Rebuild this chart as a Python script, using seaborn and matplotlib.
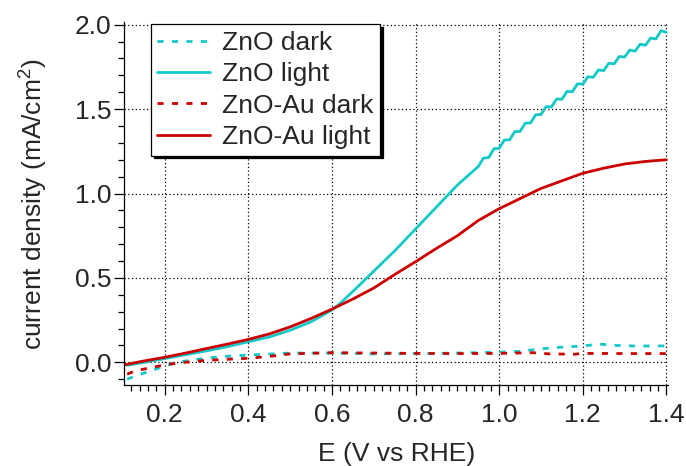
import numpy as np
import pandas as pd
import matplotlib
matplotlib.use("Agg")
import matplotlib.pyplot as plt
from matplotlib.ticker import MultipleLocator
import seaborn as sns

# ---- data ----
zno_light_x = [0.11, 0.15, 0.20, 0.25, 0.30, 0.35, 0.40, 0.45, 0.50, 0.55, 0.60, 0.62,
               0.65, 0.70, 0.75, 0.80, 0.85, 0.90,
               0.95, 0.9625, 0.975, 0.9875, 1.0, 1.0125, 1.025, 1.0375, 1.05, 1.0625,
               1.075, 1.0875, 1.1, 1.1125, 1.125, 1.1375, 1.15, 1.1625, 1.175, 1.1875,
               1.2, 1.2125, 1.225, 1.2375, 1.25, 1.2625, 1.275, 1.2875, 1.3, 1.3125,
               1.325, 1.3375, 1.35, 1.3625, 1.375, 1.3875, 1.40]
zno_light_y = [-0.018, 0.000, 0.022, 0.045, 0.068, 0.093, 0.122, 0.150, 0.190, 0.240, 0.310, 0.350,
               0.420, 0.540, 0.660, 0.790, 0.920, 1.050,
               1.160, 1.210, 1.213, 1.265, 1.268, 1.317, 1.318, 1.367, 1.368, 1.417,
               1.418, 1.467, 1.468, 1.515, 1.513, 1.560, 1.558, 1.605, 1.603, 1.650,
               1.648, 1.692, 1.688, 1.732, 1.728, 1.772, 1.768, 1.812, 1.808, 1.850,
               1.843, 1.885, 1.878, 1.921, 1.916, 1.965, 1.955]

znoau_light_x = [0.105, 0.15, 0.20, 0.25, 0.30, 0.35, 0.40, 0.45, 0.50, 0.55, 0.60, 0.65,
                 0.70, 0.75, 0.80, 0.85, 0.90, 0.95, 1.00, 1.05, 1.10, 1.15, 1.20, 1.25,
                 1.30, 1.35, 1.40]
znoau_light_y = [-0.014, 0.008, 0.030, 0.055, 0.082, 0.108, 0.136, 0.168, 0.210, 0.260, 0.315, 0.375,
                 0.440, 0.520, 0.596, 0.675, 0.750, 0.840, 0.910, 0.970, 1.030, 1.075, 1.120, 1.150,
                 1.175, 1.190, 1.200]

zno_dark_x = [0.11, 0.13, 0.16, 0.20, 0.22, 0.25, 0.30, 0.35, 0.40, 0.50, 0.60, 0.70,
              0.80, 0.90, 1.00, 1.05, 1.10, 1.15, 1.20, 1.24, 1.28, 1.32, 1.40]
zno_dark_y = [-0.100, -0.080, -0.056, -0.022, -0.006, 0.008, 0.026, 0.036, 0.043, 0.055, 0.055, 0.050,
              0.052, 0.055, 0.060, 0.065, 0.080, 0.090, 0.097, 0.108, 0.100, 0.097, 0.097]

znoau_dark_x = [0.11, 0.13, 0.16, 0.20, 0.24, 0.30, 0.35, 0.40, 0.45, 0.50, 0.60, 0.70,
                0.80, 0.90, 1.00, 1.08, 1.12, 1.18, 1.20, 1.30, 1.40]
znoau_dark_y = [-0.070, -0.050, -0.035, -0.015, -0.002, 0.012, 0.018, 0.024, 0.035, 0.050, 0.057, 0.055,
                0.053, 0.052, 0.053, 0.057, 0.050, 0.048, 0.053, 0.052, 0.052]

labels = ["ZnO dark", "ZnO light", "ZnO-Au dark", "ZnO-Au light"]
x_ticks = [0.2, 0.4, 0.6, 0.8, 1.0, 1.2, 1.4]
y_ticks = [0.0, 0.5, 1.0, 1.5, 2.0]

CYAN = "#14C8C8"
RED = "#CC0000"

sns.set_style("ticks")
plt.rcParams['font.family'] = ['Liberation Sans', 'DejaVu Sans']
plt.rcParams['mathtext.fontset'] = 'custom'
plt.rcParams['mathtext.rm'] = 'Liberation Sans'
plt.rcParams['mathtext.it'] = 'Liberation Sans'

FS = 19
fig = plt.figure(figsize=(6.86, 4.66), dpi=100)
ax = fig.add_axes([0.1811, 0.1732, 0.7933, 0.7792])

series = [
    (zno_dark_x, zno_dark_y, CYAN, True, labels[0]),
    (zno_light_x, zno_light_y, CYAN, False, labels[1]),
    (znoau_dark_x, znoau_dark_y, RED, True, labels[2]),
    (znoau_light_x, znoau_light_y, RED, False, labels[3]),
]
for xs, ys, col, dashed, lab in series:
    df = pd.DataFrame({"x": xs, "y": ys})
    sns.lineplot(data=df, x="x", y="y", color=col, label=lab, ax=ax,
                 sort=False, estimator=None, linewidth=2.0)
    if dashed:
        ax.lines[-1].set_dashes((2.2, 3.0))
    else:
        ax.lines[-1].set_linestyle("-")

ax.set_xlim(0.103, 1.405)
ax.set_ylim(-0.136, 2.015)
ax.set_xticks(x_ticks)
ax.set_yticks(y_ticks)
ax.set_xticklabels([f"{v:.1f}" for v in x_ticks])
ax.set_yticklabels([f"{v:.1f}" for v in y_ticks])
ax.xaxis.set_minor_locator(MultipleLocator(0.02))
ax.yaxis.set_minor_locator(MultipleLocator(0.1))
ax.tick_params(which="major", direction="out", length=7, width=0.9, labelsize=FS, color="black")
ax.tick_params(axis="x", which="major", pad=5.5)
ax.tick_params(axis="y", which="major", pad=2)
ax.tick_params(which="minor", direction="out", length=4.3, width=0.9, color="black")
ax.grid(True, which="major", color="black", linestyle=(0, (1, 2)), linewidth=0.9)

for s in ["top", "right"]:
    ax.spines[s].set_visible(False)
for s in ["left", "bottom"]:
    ax.spines[s].set_color("black")
    ax.spines[s].set_linewidth(0.9)

ax.set_xlabel("E (V vs RHE)", fontsize=FS, labelpad=11)
ax.set_ylabel("current density (mA/cm$^{2}$)", fontsize=FS, labelpad=18)

leg = ax.legend(loc="upper left", bbox_to_anchor=(0.049, 0.994), borderaxespad=0,
                fontsize=FS, frameon=True, fancybox=False, edgecolor="black",
                framealpha=1, labelspacing=0.28, handlelength=2.0, handletextpad=0.45,
                borderpad=0.25, shadow={"color": "black", "alpha": 1.0})
leg.get_frame().set_linewidth(0.9)

fig.savefig("out.png", dpi=100)
